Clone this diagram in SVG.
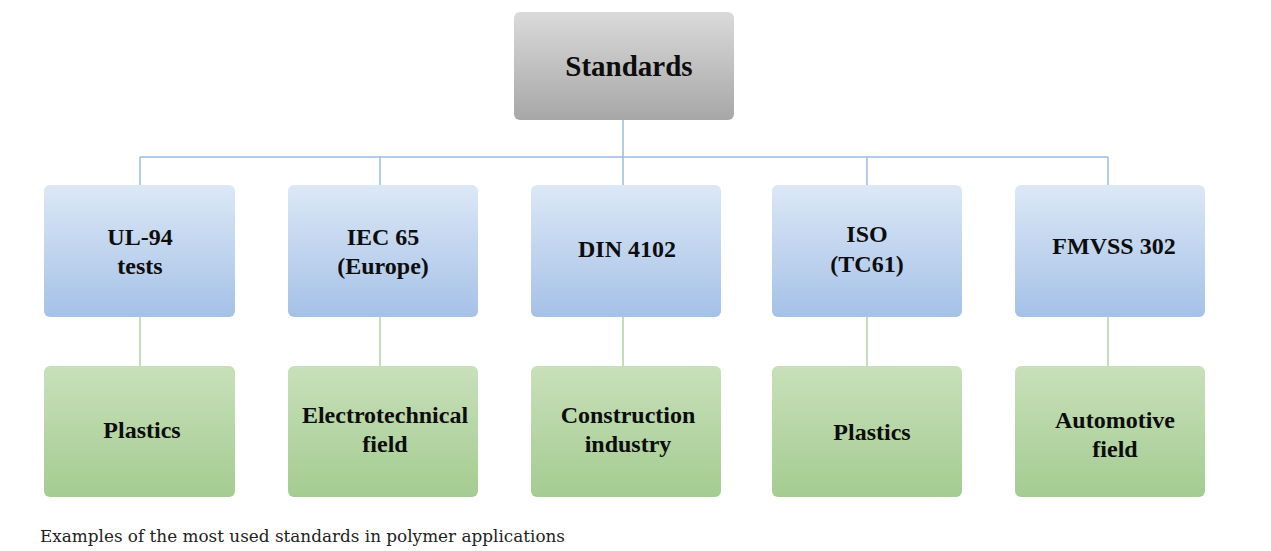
<svg xmlns="http://www.w3.org/2000/svg" width="1271" height="551" viewBox="0 0 1271 551">
<style>
.t{font-family:'Liberation Serif',Tinos,'Times New Roman',Times,serif;font-weight:700;font-size:24px;fill:#0d0d0d;text-anchor:middle}
.big{font-size:29px}
.cap{font-family:'DejaVu Serif','Liberation Serif',serif;font-size:17.5px;fill:#222}
.bl{fill:none;stroke:#9dbce0;stroke-width:1.5}
.gl{fill:none;stroke:#b3d4a2;stroke-width:1.5}
</style>
<defs>
<linearGradient id="gray" x1="0" y1="0" x2="0" y2="1"><stop offset="0" stop-color="#dadada"/><stop offset="1" stop-color="#a7a7a7"/></linearGradient>
<linearGradient id="blue" x1="0" y1="0" x2="0" y2="1"><stop offset="0" stop-color="#dce8f6"/><stop offset="1" stop-color="#a5c1e7"/></linearGradient>
<linearGradient id="green" x1="0" y1="0" x2="0" y2="1"><stop offset="0" stop-color="#c8e0ba"/><stop offset="1" stop-color="#a4cc91"/></linearGradient>
</defs>
<rect width="1271" height="551" fill="#fff"/>
<g id="connectors">
<path class="bl" d="M623 120V157M140 157H1108M140 157V185M380 157V185M623 157V185M867 157V185M1108 157V185"/>
<path class="gl" d="M140 317V366M380 317V366M623 317V366M867 317V366M1108 317V366"/>
</g>
<g id="standards"><rect x="514" y="12" width="220" height="108" rx="6" fill="url(#gray)"/><text class="t big" x="629" y="76">Standards</text></g>
<g id="ul94"><rect x="44" y="185" width="191" height="132" rx="6" fill="url(#blue)"/><text class="t" x="140" y="245">UL-94</text><text class="t" x="140" y="274">tests</text></g>
<g id="iec65"><rect x="288" y="185" width="190" height="132" rx="6" fill="url(#blue)"/><text class="t" x="383" y="245">IEC 65</text><text class="t" x="383" y="274">(Europe)</text></g>
<g id="din4102"><rect x="531" y="185" width="190" height="132" rx="6" fill="url(#blue)"/><text class="t" x="627" y="257">DIN 4102</text></g>
<g id="iso"><rect x="772" y="185" width="190" height="132" rx="6" fill="url(#blue)"/><text class="t" x="867" y="242">ISO</text><text class="t" x="867" y="272">(TC61)</text></g>
<g id="fmvss302"><rect x="1015" y="185" width="190" height="132" rx="6" fill="url(#blue)"/><text class="t" x="1114" y="254">FMVSS 302</text></g>
<g id="plastics1"><rect x="44" y="366" width="191" height="131" rx="6" fill="url(#green)"/><text class="t" x="142" y="438">Plastics</text></g>
<g id="electrotechnical"><rect x="288" y="366" width="190" height="131" rx="6" fill="url(#green)"/><text class="t" x="385" y="423">Electrotechnical</text><text class="t" x="385" y="452">field</text></g>
<g id="construction"><rect x="531" y="366" width="190" height="131" rx="6" fill="url(#green)"/><text class="t" x="628" y="423">Construction</text><text class="t" x="628" y="452">industry</text></g>
<g id="plastics2"><rect x="772" y="366" width="190" height="131" rx="6" fill="url(#green)"/><text class="t" x="872" y="440">Plastics</text></g>
<g id="automotive"><rect x="1015" y="366" width="190" height="131" rx="6" fill="url(#green)"/><text class="t" x="1115" y="428">Automotive</text><text class="t" x="1115" y="457">field</text></g>
<text class="cap" x="40" y="542" textLength="525" lengthAdjust="spacingAndGlyphs">Examples of the most used standards in polymer applications</text>
</svg>
